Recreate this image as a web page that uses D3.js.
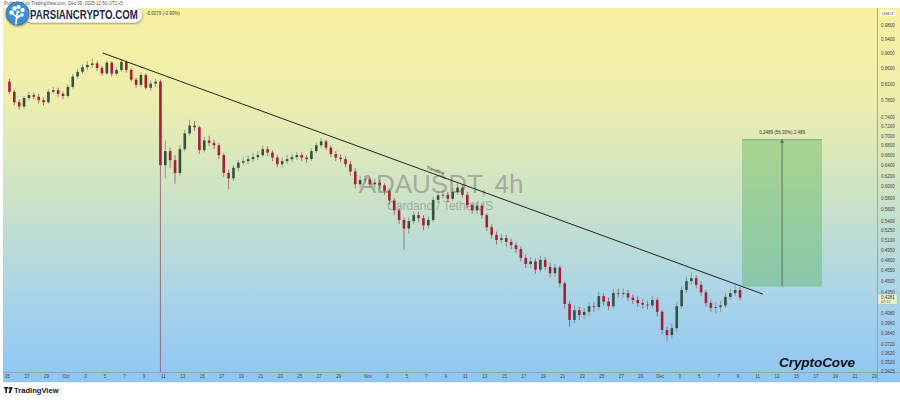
<!DOCTYPE html>
<html><head><meta charset="utf-8">
<script src="https://cdn.jsdelivr.net/npm/d3@7"></script>
<style>body{margin:0;background:#fff;} svg{display:block;font-family:"Liberation Sans",Arial,sans-serif;}</style>
</head><body><svg id="c" width="900" height="400"></svg>
<script>
// ---------- DATA ----------
const startTime = "2025-09-25T00:00:00Z";
const candleHours = 12;
const firstOpen = 0.825;
const closes = [
.80,.775,.765,.785,.792,.788,.78,.775,.80,.804,
.795,.79,.812,.838,.85,.862,.868,.872,.86,.846,
.874,.845,.855,.876,.855,.83,.817,.842,.81,.82,
.825,.64,.668,.65,.625,.672,.705,.722,.718,.67,
.69,.685,.68,.66,.625,.615,.635,.645,.648,.652,
.656,.66,.672,.665,.655,.642,.648,.652,.656,.66,
.655,.652,.668,.68,.688,.675,.662,.655,.652,.642,
.628,.604,.612,.613,.604,.607,.602,.592,.575,.558,
.542,.528,.54,.55,.545,.533,.542,.576,.584,.585,
.578,.59,.598,.585,.567,.558,.566,.55,.53,.518,
.51,.513,.507,.502,.496,.483,.474,.478,.466,.48,
.47,.461,.469,.447,.42,.40,.412,.406,.41,.417,
.416,.43,.423,.417,.434,.433,.434,.428,.425,.421,
.419,.418,.425,.41,.388,.382,.39,.417,.438,.45,
.454,.445,.435,.421,.415,.416,.418,.429,.434,.438,
.4281];
const highs = [
.832,.805,.782,.79,.80,.798,.795,.786,.806,.812,
.81,.80,.818,.845,.858,.87,.878,.885,.878,.866,
.88,.878,.862,.884,.88,.86,.835,.848,.846,.828,
.832,.83,.69,.675,.66,.68,.712,.735,.732,.722,
.698,.70,.692,.684,.664,.632,.64,.65,.656,.66,
.664,.668,.68,.678,.67,.66,.655,.66,.662,.666,
.665,.66,.674,.686,.695,.692,.68,.668,.662,.658,
.648,.634,.62,.62,.618,.614,.612,.606,.596,.58,
.562,.546,.546,.556,.556,.55,.548,.582,.592,.594,
.59,.596,.606,.603,.59,.572,.572,.57,.553,.535,
.523,.52,.518,.512,.506,.50,.488,.484,.482,.486,
.484,.476,.474,.472,.45,.424,.418,.416,.415,.422,
.422,.436,.434,.428,.44,.44,.44,.438,.432,.43,
.426,.424,.43,.428,.412,.392,.396,.422,.443,.456,
.462,.458,.45,.438,.425,.422,.424,.434,.44,.444,
.442];
const lows = [
.795,.768,.758,.76,.78,.782,.772,.768,.772,.795,
.788,.782,.786,.808,.832,.845,.855,.86,.852,.84,
.842,.838,.84,.85,.848,.825,.81,.812,.805,.803,
.812,.28,.615,.635,.605,.62,.668,.70,.71,.662,
.665,.678,.672,.652,.618,.595,.61,.628,.64,.642,
.646,.65,.655,.658,.648,.636,.636,.642,.646,.65,
.648,.645,.648,.663,.675,.67,.656,.648,.646,.636,
.62,.596,.598,.605,.598,.598,.595,.585,.568,.55,
.535,.495,.52,.535,.538,.525,.528,.538,.57,.578,
.572,.574,.585,.58,.562,.552,.552,.544,.524,.512,
.503,.505,.50,.496,.49,.478,.468,.468,.46,.462,
.465,.455,.456,.442,.414,.392,.396,.40,.401,.405,
.41,.412,.418,.412,.414,.428,.428,.424,.42,.416,
.414,.413,.414,.404,.383,.375,.378,.386,.414,.434,
.445,.44,.43,.416,.41,.408,.41,.415,.425,.43,
.425];
const yTicks = [0.98,0.94,0.90,0.86,0.82,0.78,0.74,0.72,0.70,0.68,0.66,0.64,0.62,0.60,0.58,0.56,0.54,0.525,0.51,0.495,0.48,0.465,0.45,0.435,0.408,0.396,0.384,0.372,0.362,0.352,0.3425];
const xTicks = ["09-25","09-27","09-29","10-01","10-03","10-05","10-07","10-09","10-11","10-13","10-15","10-17","10-19","10-21","10-23","10-25","10-27","10-29","11-01","11-03","11-05","11-07","11-09","11-11","11-13","11-15","11-17","11-19","11-21","11-23","11-25","11-27","11-29","12-01","12-03","12-05","12-07","12-09","12-11","12-13","12-15","12-17","12-19","12-21","12-23"];
const xTickLabels = ["25","27","29","Oct","3","5","7","9","11","13","15","17","19","21","23","25","27","29","Nov","3","5","7","9","11","13","15","17","19","21","23","25","27","29","Dec","3","5","7","9","11","13","15","17","19","21","23"];
const trendline = [["2025-10-04T20:00:00Z",0.900],["2025-12-11T14:00:00Z",0.4327]];
const measureBox = {start:"2025-12-09T11:00:00Z", end:"2025-12-17T16:00:00Z", low:0.4427, high:0.6916};
const measureLabel = "0.2489 (56.30%) 2,489";
const lastPrice = 0.4281;
const lastCountdown = "09:11";
const headerText = "Published on TradingView.com, Dec 09, 2025 12:50 UTC+5";
const changeText = "-0.0079 (-0.90%)";

// ---------- SETUP ----------
const svg = d3.select("#c");
const W=900, H=400;
const plot = {left:3, top:8, right:877, bottom:372};
const x = d3.scaleUtc().domain([new Date("2025-09-25T00:00:00Z"), new Date("2025-12-23T00:00:00Z")]).range([7, 874]);
const y = d3.scaleLog().domain([0.3425, 0.98]).range([371, 25]);

const defs = svg.append("defs");
const grad = defs.append("linearGradient").attr("id","bg").attr("x1",0).attr("y1",0).attr("x2",0).attr("y2",1);
grad.append("stop").attr("offset","0%").attr("stop-color","#f8f0a0");
grad.append("stop").attr("offset","25%").attr("stop-color","#edeeae");
grad.append("stop").attr("offset","50%").attr("stop-color","#cde3c6");
grad.append("stop").attr("offset","75%").attr("stop-color","#acd5e6");
grad.append("stop").attr("offset","100%").attr("stop-color","#8ec6f6");
defs.append("clipPath").attr("id","clip").append("rect")
  .attr("x",plot.left).attr("y",plot.top).attr("width",plot.right-plot.left).attr("height",plot.bottom-plot.top);
const sh = defs.append("filter").attr("id","sh").attr("x","-20%").attr("y","-40%").attr("width","140%").attr("height","180%");
sh.append("feDropShadow").attr("dx",0.5).attr("dy",1).attr("stdDeviation",1.2).attr("flood-color","#000").attr("flood-opacity",0.45);
const mk = defs.append("marker").attr("id","arr").attr("viewBox","0 0 10 10").attr("refX",5).attr("refY",5)
  .attr("markerWidth",4).attr("markerHeight",4).attr("orient","auto");
mk.append("path").attr("d","M0,0L10,5L0,10z").attr("fill","#5f6f5f");

// background
svg.append("rect").attr("x",plot.left).attr("y",plot.top).attr("width",W-plot.left).attr("height",382-plot.top).attr("fill","url(#bg)");

// header
svg.append("text").attr("x",4).attr("y",4.6).attr("font-size",4.5).attr("fill","#555").text(headerText);
svg.append("text").attr("x",146).attr("y",14.5).attr("font-size",4.5).attr("fill","#444").text(changeText);

const g = svg.append("g").attr("clip-path","url(#clip)");

// watermark
g.append("text").attr("x",441).attr("y",192.5).attr("text-anchor","middle").attr("font-size",26)
  .attr("fill","#7a7a7a").attr("fill-opacity",0.55).text("ADAUSDT, 4h");
g.append("text").attr("x",440).attr("y",209.5).attr("text-anchor","middle").attr("font-size",12)
  .attr("fill","#7a7a7a").attr("fill-opacity",0.55).text("Cardano / TetherUS");

// candles
const t0 = new Date(startTime).getTime();
const candles = closes.map((c,i)=>({
  t: new Date(t0 + i*candleHours*3600e3 + candleHours/2*3600e3),
  o: i===0 ? firstOpen : closes[i-1], c, h: highs[i], l: lows[i]
}));
const bw = 2.6;
const cg = g.append("g");
cg.selectAll("line.w").data(candles).join("line")
  .attr("x1",d=>x(d.t)).attr("x2",d=>x(d.t))
  .attr("y1",d=>y(d.h)).attr("y2",d=>Math.min(y(d.l), plot.bottom))
  .attr("stroke",d=>d.c>=d.o?"#7d8a86":"#8e5a62").attr("stroke-width",0.8);
cg.selectAll("rect.b").data(candles).join("rect")
  .attr("x",d=>x(d.t)-bw/2).attr("width",bw)
  .attr("y",d=>y(Math.max(d.o,d.c))).attr("height",d=>Math.max(0.8, Math.abs(y(d.o)-y(d.c))))
  .attr("fill",d=>d.c>=d.o?"#34513f":"#a51f35");

// trendline
const tl = trendline.map(p=>[x(new Date(p[0])), y(p[1])]);
g.append("line").attr("x1",tl[0][0]).attr("y1",tl[0][1]).attr("x2",tl[1][0]).attr("y2",tl[1][1])
  .attr("stroke","#222").attr("stroke-width",1);
const ang = Math.atan2(tl[1][1]-tl[0][1], tl[1][0]-tl[0][0])*180/Math.PI;
const lx = 435, ly = tl[0][1] + (lx-tl[0][0])*(tl[1][1]-tl[0][1])/(tl[1][0]-tl[0][0]) - 2.5;
g.append("text").attr("transform",`translate(${lx},${ly}) rotate(${ang})`).attr("text-anchor","middle")
  .attr("font-size",4.5).attr("fill","#222").text("Trendline");

// measure box
const bx0 = x(new Date(measureBox.start)), bx1 = x(new Date(measureBox.end));
const by0 = y(measureBox.high), by1 = y(measureBox.low);
g.append("rect").attr("x",bx0).attr("y",by0).attr("width",bx1-bx0).attr("height",by1-by0)
  .attr("fill","#4caf50").attr("fill-opacity",0.38);
g.append("line").attr("x1",bx0).attr("x2",bx1).attr("y1",by0).attr("y2",by0).attr("stroke","#6a8a6a").attr("stroke-width",0.7);
g.append("line").attr("x1",(bx0+bx1)/2).attr("x2",(bx0+bx1)/2).attr("y1",by1).attr("y2",by0+1)
  .attr("stroke","#5f6f5f").attr("stroke-width",1).attr("marker-end","url(#arr)");
g.append("text").attr("x",(bx0+bx1)/2).attr("y",by0-6).attr("text-anchor","middle").attr("font-size",4.5)
  .attr("fill","#333").text(measureLabel);

// CryptoCove
svg.append("text").attr("x",779).attr("y",367).attr("font-size",13.5).attr("font-weight","bold").attr("font-style","italic")
  .attr("fill","#111").attr("textLength",76).text("CryptoCove");

// axes separators
svg.append("line").attr("x1",877.5).attr("x2",877.5).attr("y1",plot.top).attr("y2",382).attr("stroke","#8e9a9a").attr("stroke-width",0.8);
svg.append("line").attr("x1",plot.left).attr("x2",W).attr("y1",372.5).attr("y2",372.5).attr("stroke","#8e9a9a").attr("stroke-width",0.8);

// y axis
const ya = svg.append("g").attr("transform","translate(880,0)")
  .call(d3.axisRight(y).tickValues(yTicks).tickFormat(d3.format(".4f")).tickSize(0).tickPadding(1));
ya.select(".domain").remove();
ya.selectAll("text").attr("font-size",4.5).attr("fill","#444").attr("font-family","Liberation Sans, Arial, sans-serif");

// USDT label
svg.append("rect").attr("x",880).attr("y",10).attr("width",16).attr("height",6).attr("fill","#fdfbe8");
svg.append("text").attr("x",888).attr("y",14.6).attr("text-anchor","middle").attr("font-size",4.2).attr("fill","#444").text("USDT");

// last price label
const lpY = y(lastPrice);
svg.append("rect").attr("x",878).attr("y",lpY-3.5).attr("width",19).attr("height",10).attr("fill","#eef0c8").attr("stroke","#b8bea0").attr("stroke-width",0.4);
svg.append("text").attr("x",881).attr("y",lpY+1.2).attr("font-size",4.5).attr("fill","#333").text(d3.format(".4f")(lastPrice));
svg.append("text").attr("x",881).attr("y",lpY+5.4).attr("font-size",4).attr("fill","#555").text(lastCountdown);

// x axis
const xa = svg.append("g").attr("transform","translate(0,375)")
  .call(d3.axisBottom(x).tickValues(xTicks.map(s=>new Date("2025-"+s+"T00:00:00Z"))).tickFormat((d,i)=>xTickLabels[i]).tickSize(0).tickPadding(0));
xa.select(".domain").remove();
xa.selectAll("text").attr("font-size",4.5).attr("fill","#444").attr("font-family","Liberation Sans, Arial, sans-serif");
svg.append("line").attr("x1",plot.left).attr("x2",W).attr("y1",382).attr("y2",382).attr("stroke","#b0bcc8").attr("stroke-width",0.5);

// TradingView logo
const tv = svg.append("g").attr("transform","translate(4,387)");
tv.append("path").attr("d","M0,0H4.2V1.6H2.9V6H1.3V1.6H0Z").attr("fill","#131722");
tv.append("circle").attr("cx",5.3).attr("cy",1.1).attr("r",0.9).attr("fill","#131722");
tv.append("path").attr("d","M6.4,0H8.6L6.7,6H4.6Z").attr("fill","#131722");
svg.append("text").attr("x",14).attr("y",393.2).attr("font-size",7.6).attr("font-weight","bold").attr("fill","#131722").text("TradingView");

// PARSIANCRYPTO logo
const lg = svg.append("g");
lg.append("rect").attr("x",24).attr("y",7.5).attr("width",118).attr("height",15).attr("rx",7.5)
  .attr("fill","#fff").attr("filter","url(#sh)");
lg.append("text").attr("transform","translate(30,19.3) scale(0.807,1)").attr("font-size",12).attr("font-weight","bold").attr("fill","#1e2a50")
  .text("PARSIANCRYPTO.COM");
lg.append("circle").attr("cx",17.5).attr("cy",13.5).attr("r",11.5).attr("fill","#3d8fd1").attr("stroke","#2a6aa8").attr("stroke-width",0.8).attr("filter","url(#sh)");
const tree = lg.append("g").attr("fill","#fff").attr("stroke","#fff");
tree.append("path").attr("d","M16,24 L16.5,17 L12,13 M16.5,17 L17.5,12 M17,18 L21.5,14.5").attr("fill","none").attr("stroke-width",1.6).attr("stroke-linecap","round");
[[11.5,12.5,2.2],[14.5,8.5,2.3],[18.5,7,2.1],[22.5,10,2.2],[22,15,1.8],[18,12,1.4]].forEach(c=>
  tree.append("circle").attr("cx",c[0]).attr("cy",c[1]).attr("r",c[2]).attr("stroke","none"));
</script></body></html>
